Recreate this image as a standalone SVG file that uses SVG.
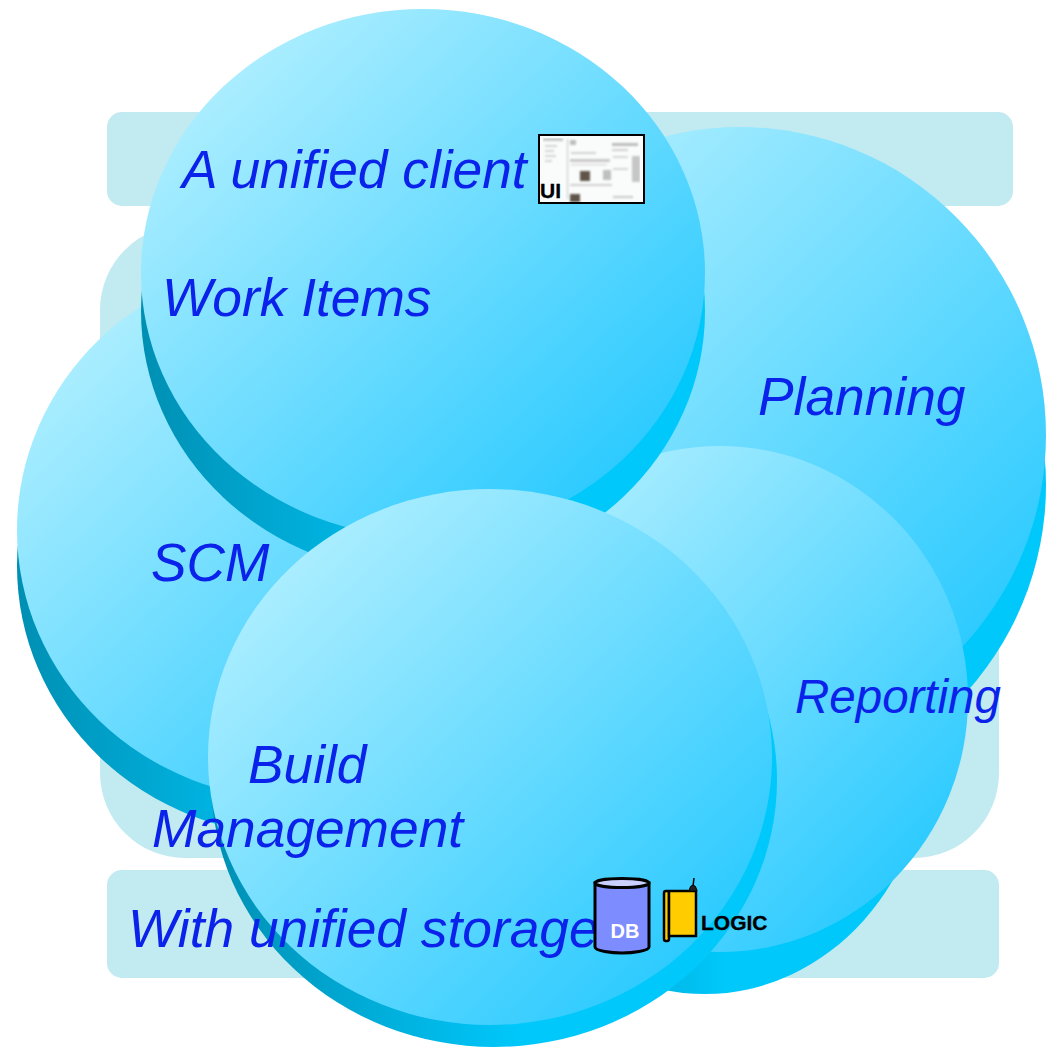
<svg xmlns="http://www.w3.org/2000/svg" width="1047" height="1047" viewBox="0 0 1047 1047">
<style>
.band{fill:#c1eaf1}
.t{font-family:"Liberation Sans",Arial,sans-serif;font-style:italic;fill:#0b22ea;font-size:53.300px}
.top{fill:url(#lt)}
.side{fill:url(#dk)}
.k{font-family:"Liberation Sans",Arial,sans-serif;font-weight:bold;fill:#000;stroke:#000;stroke-width:0.300px}
</style>
<defs>
<linearGradient id="lt" x1="0.15" y1="0.15" x2="0.85" y2="0.85"><stop offset="0" stop-color="#a9edff"/><stop offset="1" stop-color="#2fcbff"/></linearGradient>
<linearGradient id="dk" x1="0" y1="0.5" x2="1" y2="0.5"><stop offset="0" stop-color="#008fb3"/><stop offset="0.55" stop-color="#00c8fb"/><stop offset="1" stop-color="#00c8fb"/></linearGradient>
<filter id="soft" x="0" y="0" width="1" height="1"><feGaussianBlur stdDeviation="0.800"/></filter>
</defs>
<g id="bands">
<rect class="band" x="107" y="112" width="906" height="94" rx="15"/>
<rect class="band" x="100" y="225" width="899" height="633" rx="85"/>
<rect class="band" x="107" y="870" width="892" height="108" rx="15"/>
</g>
<g id="planning">
<ellipse class="side" cx="740" cy="485" rx="306" ry="308"/>
<ellipse class="top" cx="740" cy="435" rx="306" ry="308"/>
</g>
<g id="reporting">
<ellipse class="side" cx="705" cy="741" rx="225" ry="253"/>
<ellipse class="top" cx="720" cy="699" rx="248" ry="253"/>
</g>
<g id="scm">
<ellipse class="side" cx="299" cy="566" rx="282" ry="270"/>
<ellipse class="top" cx="299" cy="530" rx="282" ry="270"/>
</g>
<g id="workitems">
<ellipse class="side" cx="423" cy="311" rx="282" ry="264"/>
<ellipse class="top" cx="423" cy="273" rx="282" ry="264"/>
</g>
<g id="build">
<ellipse class="side" cx="494" cy="780" rx="283" ry="267"/>
<ellipse class="top" cx="490" cy="757" rx="282" ry="268"/>
</g>
<g id="labels">
<text class="t" x="182" y="188">A unified client</text>
<text class="t" x="162" y="316">Work Items</text>
<text class="t" x="758" y="415">Planning</text>
<text class="t" x="795" y="713" style="font-size:47.500px">Reporting</text>
<text class="t" x="151" y="581">SCM</text>
<text class="t" x="248" y="783">Build</text>
<text class="t" x="152" y="847">Management</text>
<text class="t" x="128" y="947">With unified storage</text>
</g>
<g id="ui">
<rect x="539" y="135" width="105" height="68" fill="#fafbfb"/>
<g filter="url(#soft)">
<rect x="543" y="138" width="20" height="3" fill="#c8c8c8"/>
<rect x="545" y="145" width="12" height="2" fill="#d4d4d4"/>
<rect x="545" y="150" width="9" height="2" fill="#d4d4d4"/>
<rect x="545" y="155" width="11" height="2" fill="#d4d4d4"/>
<rect x="545" y="160" width="7" height="2" fill="#d4d4d4"/>
<rect x="567" y="139" width="1" height="60" fill="#c4c4c4"/>
<rect x="570" y="140" width="6" height="5" fill="#bdbdbd"/>
<rect x="571" y="152" width="25" height="2" fill="#d0d0d0"/>
<rect x="570" y="159" width="40" height="3" fill="#c8c8c8"/>
<rect x="571" y="164" width="36" height="1.500" fill="#dcdcdc"/>
<rect x="580" y="171" width="10" height="10" fill="#5f5448"/>
<rect x="603" y="170" width="8" height="10" fill="#bfbfbf"/>
<rect x="570" y="184" width="42" height="2" fill="#cfcfcf"/>
<rect x="570" y="194" width="10" height="8" fill="#5f5448"/>
<rect x="612" y="143" width="26" height="3" fill="#bcbcbc"/>
<rect x="612" y="149" width="16" height="2" fill="#cfcfcf"/>
<rect x="632" y="156" width="8" height="26" fill="#c6c6c6"/>
<rect x="613" y="156" width="15" height="2" fill="#d6d6d6"/>
<rect x="613" y="168" width="15" height="2" fill="#d6d6d6"/>
<rect x="613" y="196" width="20" height="2" fill="#c8c8c8"/>
</g>
<rect x="539" y="135" width="105" height="68" fill="none" stroke="#000" stroke-width="2"/>
<text class="k" x="540" y="198" font-size="21">UI</text>
</g>
<g id="db">
<path d="M595 883V947C595 951 612 953 622 953S649 951 649 947V883Z" fill="#7d8cff" stroke="#000" stroke-width="3"/>
<ellipse cx="622" cy="883" rx="27" ry="4.500" fill="#c9d0ff" stroke="#000" stroke-width="3"/>
<text x="625" y="938" text-anchor="middle" font-size="20" font-family="Liberation Sans,Arial,sans-serif" font-weight="bold" fill="#fff">DB</text>
</g>
<g id="logic">
<rect x="664" y="891" width="5" height="50" rx="2" fill="#ffcc00" stroke="#000" stroke-width="2.500"/>
<path d="M669 891H696V936H669Z" fill="#ffcc00" stroke="#000" stroke-width="2.500"/>
<path d="M689 891Q690 885 693 885Q696 885 697 891Z" fill="#222" stroke="#000"/>
<path d="M693 886L694 878" stroke="#000" stroke-width="1.500"/>
<text class="k" x="701" y="930" font-size="21">LOGIC</text>
</g>
</svg>
